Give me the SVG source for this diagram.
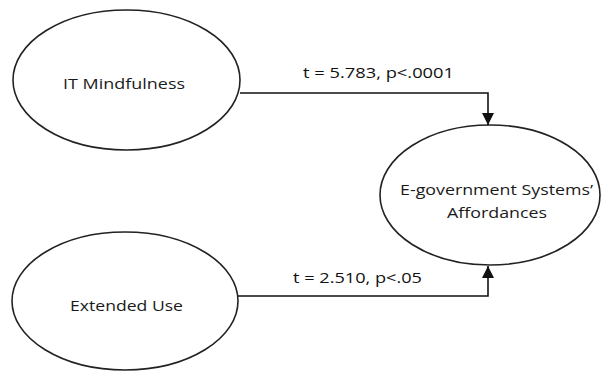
<svg xmlns="http://www.w3.org/2000/svg" width="603" height="371" viewBox="0 0 603 371">
<style>
.n{fill:#fff;stroke:#222;stroke-width:1.6}
.t{font-family:"Open Sans","Liberation Sans",sans-serif;font-size:15px;fill:#1a1a1a}
.l{font-family:"Open Sans","Liberation Sans",sans-serif;font-size:14px;fill:#111}
.c{fill:none;stroke:#111;stroke-width:1.6}
</style>
<defs>
<marker id="a" viewBox="0 0 10 10" refX="10" refY="5" markerWidth="12" markerHeight="12" markerUnits="userSpaceOnUse" orient="auto"><path d="M0,0 L10,5 L0,10 z" fill="#111"/></marker>
</defs>
<rect width="603" height="371" fill="#fff"/>
<g id="it-mindfulness"><ellipse class="n" cx="126.5" cy="80" rx="113.5" ry="70"/><text class="t" x="63" y="89" textLength="122" lengthAdjust="spacingAndGlyphs">IT Mindfulness</text></g>
<g id="extended-use"><ellipse class="n" cx="125" cy="301" rx="113" ry="69"/><text class="t" x="70" y="311" textLength="113" lengthAdjust="spacingAndGlyphs">Extended Use</text></g>
<g id="egov"><ellipse class="n" cx="490" cy="195" rx="110" ry="70"/><text class="t" x="400" y="195" textLength="193" lengthAdjust="spacingAndGlyphs">E-government Systems’</text><text class="t" x="447" y="218" textLength="100" lengthAdjust="spacingAndGlyphs">Affordances</text></g>
<g id="connectors">
<path class="c" d="M240,93 H488 V125" marker-end="url(#a)"/>
<path class="c" d="M238,296 H488 V266" marker-end="url(#a)"/>
<text class="l" x="303" y="78" textLength="151" lengthAdjust="spacingAndGlyphs">t = 5.783, p&lt;.0001</text>
<text class="l" x="293" y="283" textLength="129" lengthAdjust="spacingAndGlyphs">t = 2.510, p&lt;.05</text>
</g>
</svg>
